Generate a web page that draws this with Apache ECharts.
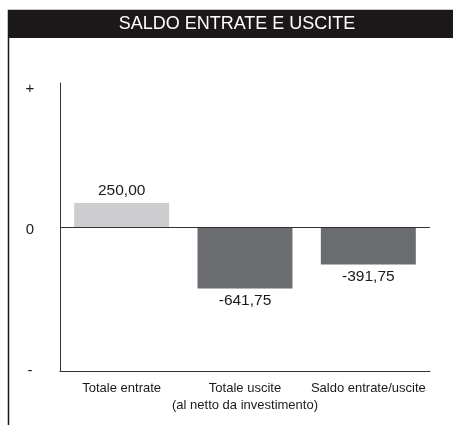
<!DOCTYPE html>
<html>
<head>
<meta charset="utf-8">
<script src="https://cdn.jsdelivr.net/npm/echarts@6/dist/echarts.min.js"></script>
<style>
html,body{margin:0;padding:0;background:#fff;}
#chart{width:453px;height:425px;}
</style>
</head>
<body>
<div id="chart"></div>
<script>
const titleText = 'SALDO ENTRATE E USCITE';
const categories = ['Totale entrate', 'Totale uscite\n(al netto da investimento)', 'Saldo entrate/uscite'];
const values = [250.00, -641.75, -391.75];
const yTickValues = [-1500, 0, 1500];
const yTickLabels = ['-', '0', '+'];

const FONT = "'Liberation Sans', Arial, sans-serif";
const fmt = v => v.toFixed(2).replace('.', ',');

const chart = echarts.init(document.getElementById('chart'), null, {renderer: 'canvas'});
chart.setOption({
  animation: false,
  backgroundColor: '#fff',
  graphic: [
    {type: 'rect', z: 1, shape: {x: 8.5, y: 10.5, width: 470, height: 440}, style: {fill: null, stroke: '#1a1718', lineWidth: 1.5}},
    {type: 'rect', z: 1, shape: {x: 9, y: 11, width: 444, height: 27}, style: {fill: '#1c1819'}}
  ],
  title: {
    text: titleText,
    left: 237,
    textAlign: 'center',
    top: 15,
    padding: 0,
    textStyle: {color: '#ffffff', fontSize: 18, fontWeight: 'normal', fontFamily: FONT}
  },
  grid: {left: 60, right: 23, top: 83, bottom: 54, containLabel: false, outerBoundsMode: 'none'},
  xAxis: {
    type: 'category',
    data: categories,
    axisLine: {onZero: false, lineStyle: {color: '#333', width: 1}},
    axisTick: {show: false},
    axisLabel: {interval: 0, margin: 9, color: '#1a1a1a', fontSize: 13, lineHeight: 17, fontFamily: FONT}
  },
  yAxis: {
    type: 'value',
    min: yTickValues[0],
    max: yTickValues[2],
    interval: 1500,
    axisLine: {show: true, lineStyle: {color: '#333', width: 1}},
    axisTick: {show: false},
    splitLine: {show: false},
    axisLabel: {
      margin: 30,
      align: 'center',
      color: '#1a1a1a',
      fontSize: 15,
      fontFamily: FONT,
      formatter: v => {
        const i = yTickValues.indexOf(v);
        const t = i >= 0 ? yTickLabels[i] : '';
        if (t === '+') return '{p|+}';
        if (t === '0') return '{z|0}';
        return t;
      },
      rich: {
        p: {padding: [12, 0, 0, 0], fontSize: 15, fontFamily: FONT, color: '#1a1a1a'},
        z: {padding: [6, 0, 0, 0], fontSize: 15, fontFamily: FONT, color: '#1a1a1a'}
      }
    }
  },
  series: [{
    type: 'bar',
    barWidth: '77%',
    data: values.map(v => ({value: v, label: {position: v >= 0 ? 'top' : 'bottom'}})),
    itemStyle: {color: p => p.value >= 0 ? '#cdcdcf' : '#6b6c70'},
    label: {
      show: true,
      distance: 4,
      color: '#1a1a1a',
      fontSize: 15.5,
      fontFamily: FONT,
      formatter: p => fmt(p.value)
    },
    markLine: {
      silent: true,
      symbol: ['none', 'none'],
      label: {show: false},
      lineStyle: {color: '#333', type: 'solid', width: 1},
      data: [{yAxis: 0}]
    }
  }]
});
</script>
</body>
</html>
